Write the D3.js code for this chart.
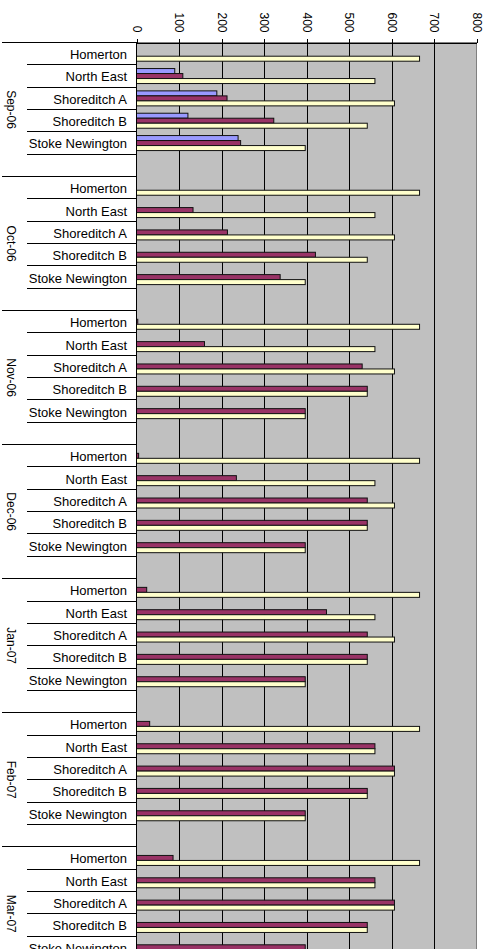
<!DOCTYPE html>
<html>
<head>
<meta charset="utf-8">
<script src="https://cdn.jsdelivr.net/npm/d3@7"></script>
<style>
  html, body { margin: 0; padding: 0; background: #fff; }
  svg { display: block; font-family: "Liberation Sans", Arial, sans-serif; }
</style>
</head>
<body>
<svg id="chart" width="491" height="949"></svg>
<script>
// Months (outer category level) and sites (inner level)
const months = ["Sep-06", "Oct-06", "Nov-06", "Dec-06", "Jan-07", "Feb-07", "Mar-07"];
const sites = ["Homerton", "North East", "Shoreditch A", "Shoreditch B", "Stoke Newington"];

// Value axis ticks
const tickValues = [0, 100, 200, 300, 400, 500, 600, 700, 800];

// Series 1 (blue): only reported for Sep-06, one value per site
const series1 = [
  [0, 90, 189, 121, 239],
  null, null, null, null, null, null
];

// Series 2 (maroon): per month, one value per site
const series2 = [
  [0, 109, 213, 323, 245],
  [0, 133, 214, 421, 338],
  [3, 160, 531, 543, 397],
  [5, 235, 543, 543, 397],
  [24, 447, 543, 543, 397],
  [31, 561, 607, 543, 397],
  [86, 561, 607, 543, 397]
];

// Series 3 (cream): same per-site level every month
const series3 = [
  [666, 561, 607, 543, 397],
  [666, 561, 607, 543, 397],
  [666, 561, 607, 543, 397],
  [666, 561, 607, 543, 397],
  [666, 561, 607, 543, 397],
  [666, 561, 607, 543, 397],
  [666, 561, 607, 543, 397]
];

const seriesColors = ["#9999ff", "#993366", "#ffffcc"];

const svg = d3.select("#chart");

const plotLeft = 136.5, plotRight = 476.5, plotTop = 42.5;
const catStep = 22.34;
const slotsPerMonth = sites.length + 1; // one empty slot closes each month block

// Category keys: every site in every month, plus a blank slot per month
const catKeys = [];
months.forEach(m => {
  sites.forEach(s => catKeys.push(m + "|" + s));
  catKeys.push(m + "|");
});
const plotBottom = plotTop + catKeys.length * catStep;

const x = d3.scaleLinear().domain([0, 800]).range([plotLeft, plotRight]);
const y = d3.scaleBand().domain(catKeys).range([plotTop, plotBottom]).paddingInner(0).paddingOuter(0);
const ySeries = d3.scaleBand().domain([0, 1, 2]).range([3.7, 18.7]);

// Plot area
svg.append("rect")
  .attr("x", plotLeft).attr("y", plotTop)
  .attr("width", plotRight - plotLeft).attr("height", plotBottom - plotTop)
  .attr("fill", "#c0c0c0")
  .attr("stroke", "#808080").attr("stroke-width", 1)
  .attr("shape-rendering", "crispEdges");

// Vertical gridlines
svg.append("g")
  .selectAll("line")
  .data(tickValues.filter(v => v > 0 && v < 800))
  .join("line")
  .attr("x1", d => Math.round(x(d)) + 0.5).attr("x2", d => Math.round(x(d)) + 0.5)
  .attr("y1", plotTop).attr("y2", plotBottom)
  .attr("stroke", "#000").attr("stroke-width", 1)
  .attr("shape-rendering", "crispEdges");

// Flatten bar data
const bars = [];
[series1, series2, series3].forEach((series, si) => {
  series.forEach((vals, mi) => {
    if (!vals) return;
    vals.forEach((v, ci) => {
      bars.push({ key: months[mi] + "|" + sites[ci], s: si, v });
    });
  });
});

svg.append("g")
  .selectAll("rect")
  .data(bars)
  .join("rect")
  .attr("x", x(0))
  .attr("y", d => y(d.key) + ySeries(d.s))
  .attr("width", d => x(d.v) - x(0))
  .attr("height", ySeries.bandwidth())
  .attr("fill", d => seriesColors[d.s])
  .attr("stroke", "#111")
  .attr("stroke-width", 1);

// Value axis along the top
const xAxis = d3.axisTop(x)
  .tickValues(tickValues)
  .tickSizeInner(3.5)
  .tickSizeOuter(0)
  .tickFormat(d3.format("d"));

const axisG = svg.append("g")
  .attr("transform", `translate(0,${plotTop})`)
  .call(xAxis);
axisG.select(".domain").attr("stroke", "#000").attr("shape-rendering", "crispEdges");
axisG.selectAll(".tick line").attr("stroke", "#000").attr("shape-rendering", "crispEdges");
axisG.selectAll(".tick text")
  .attr("x", 0).attr("y", 0)
  .attr("dy", "0.35em")
  .attr("transform", "translate(0,-10) rotate(90)")
  .attr("text-anchor", "end")
  .attr("fill", "#000")
  .style("font-size", "12px")
  .style("font-family", "'Liberation Sans', Arial, sans-serif");

// Category axis line
svg.append("line")
  .attr("x1", plotLeft).attr("x2", plotLeft)
  .attr("y1", plotTop).attr("y2", plotBottom)
  .attr("stroke", "#000").attr("shape-rendering", "crispEdges");

// Dividers between sites (short) and between months (long)
const dividers = [];
catKeys.forEach((k, i) => {
  const pos = i % slotsPerMonth;
  if (pos === 0) dividers.push({ y: y(k), x1: 2 });
  else dividers.push({ y: y(k), x1: 27 });
});
dividers.push({ y: plotBottom, x1: 2 });

svg.append("g")
  .selectAll("line")
  .data(dividers)
  .join("line")
  .attr("x1", d => d.x1).attr("x2", plotLeft)
  .attr("y1", d => Math.floor(d.y) + 0.5).attr("y2", d => Math.floor(d.y) + 0.5)
  .attr("stroke", "#000").attr("stroke-width", 1)
  .attr("shape-rendering", "crispEdges");

// Site labels
svg.append("g")
  .selectAll("text")
  .data(months.flatMap(m => sites.map(s => ({ key: m + "|" + s, label: s }))))
  .join("text")
  .attr("x", 127)
  .attr("y", d => y(d.key) + y.bandwidth() / 2)
  .attr("dy", "0.42em")
  .attr("text-anchor", "end")
  .style("font-size", "13px")
  .attr("fill", "#000")
  .text(d => d.label);

// Month labels, rotated
svg.append("g")
  .selectAll("text")
  .data(months)
  .join("text")
  .attr("transform", (m, i) => {
    const cy = plotTop + (i + 0.5) * slotsPerMonth * catStep;
    return `translate(11,${cy}) rotate(90)`;
  })
  .attr("dy", "0.35em")
  .attr("text-anchor", "middle")
  .style("font-size", "12px")
  .attr("fill", "#000")
  .text(d => d);
</script>
</body>
</html>
